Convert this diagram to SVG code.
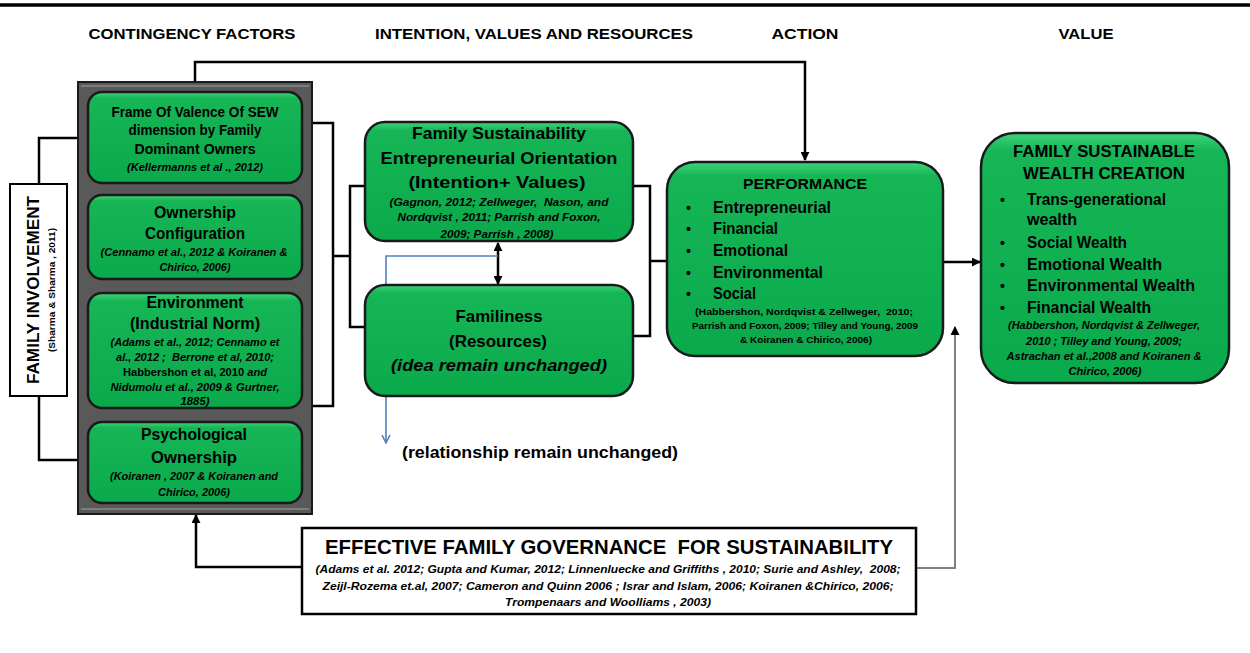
<svg xmlns="http://www.w3.org/2000/svg" width="1250" height="653" viewBox="0 0 1250 653">
<defs>
<linearGradient id="gg" x1="0" y1="0" x2="0" y2="1">
<stop offset="0" stop-color="#3fd57a"/><stop offset="0.07" stop-color="#16b657"/><stop offset="1" stop-color="#0aa94b"/>
</linearGradient>
<marker id="ah" viewBox="0 0 10 10" refX="9" refY="5" markerWidth="9" markerHeight="9" markerUnits="userSpaceOnUse" orient="auto-start-reverse"><path d="M0,0 L10,5 L0,10 z" fill="#000"/></marker>
<marker id="ahb" viewBox="0 0 10 10" refX="9" refY="5" markerWidth="10" markerHeight="10" markerUnits="userSpaceOnUse" orient="auto"><path d="M1,1 L9,5 L1,9" fill="none" stroke="#4f81bd" stroke-width="1.6"/></marker>
<style>
.t{font-family:"Liberation Sans",Arial,sans-serif;font-weight:bold;fill:#000;text-anchor:middle}
.l{text-anchor:start}
.c{font-style:italic}
.pre{white-space:pre}
.box{fill:url(#gg);stroke:#1a1a1a;stroke-width:2.5}
.ln{fill:none;stroke:#000;stroke-width:2.5}
</style>
</defs>
<rect x="0" y="0" width="1250" height="653" fill="#fff"/>
<line x1="0" y1="5" x2="1250" y2="5" stroke="#000" stroke-width="3.5"/>

<g id="headers">
<text class="t" x="192" y="39" font-size="15" textLength="207" lengthAdjust="spacingAndGlyphs">CONTINGENCY FACTORS</text>
<text class="t" x="534" y="39" font-size="15" textLength="318" lengthAdjust="spacingAndGlyphs">INTENTION, VALUES AND RESOURCES</text>
<text class="t" x="805" y="39" font-size="15" textLength="67" lengthAdjust="spacingAndGlyphs">ACTION</text>
<text class="t" x="1086" y="39" font-size="15" textLength="55" lengthAdjust="spacingAndGlyphs">VALUE</text>
</g>

<g id="connectors">
<path class="ln" d="M195,82 V62 H805 V160" marker-end="url(#ah)"/>
<path class="ln" d="M39,184 V138 H87" marker-end="url(#ah)"/>
<path class="ln" d="M39,396 V460 H87" marker-end="url(#ah)"/>
<path class="ln" stroke-width="3" d="M312,123 H333 V406 H312 M333,256 H350 M365,186 H350 V327 H365"/>
<path class="ln" stroke-width="3" d="M633,186 H650 V336 H633 M650,261 H668"/>
<path class="ln" d="M498,243 V284" marker-start="url(#ah)" marker-end="url(#ah)"/>
<path d="M498,256 H386 V443" fill="none" stroke="#4f81bd" stroke-width="1.6" marker-end="url(#ahb)"/>
<path class="ln" stroke-width="2" d="M943,262 H980" marker-end="url(#ah)"/>
<path class="ln" stroke-width="2" d="M302,567 H196 V515" marker-end="url(#ah)"/>
<path fill="none" stroke="#808080" stroke-width="2" d="M916,568 H955 V327" marker-end="url(#ah)"/>
</g>

<g id="family-involvement">
<rect x="10" y="184" width="57" height="212" fill="#fff" stroke="#000" stroke-width="2"/>
<text class="t" transform="translate(39,290) rotate(-90)" font-size="17" textLength="188" lengthAdjust="spacingAndGlyphs">FAMILY INVOLVEMENT</text>
<text class="t" transform="translate(55,290) rotate(-90)" font-size="8.5" textLength="124" lengthAdjust="spacingAndGlyphs">(Sharma &amp; Sharma , 2011)</text>
</g>

<g id="contingency-panel">
<rect x="78" y="82" width="234" height="432" fill="#595959" stroke="#1a1a1a" stroke-width="2"/>
<line x1="81" y1="86" x2="309" y2="86" stroke="#8a8a8a" stroke-width="1.5"/>
<line x1="81" y1="509" x2="309" y2="509" stroke="#8a8a8a" stroke-width="1.5"/>
</g>

<g id="frame-of-valence">
<rect class="box" x="88" y="92" width="214" height="91" rx="14"/>
<text class="t" x="195" y="117" font-size="14" textLength="167" lengthAdjust="spacingAndGlyphs">Frame Of Valence Of SEW</text>
<text class="t" x="195" y="135" font-size="14" textLength="133" lengthAdjust="spacingAndGlyphs">dimension by Family</text>
<text class="t" x="195" y="154" font-size="14" textLength="121" lengthAdjust="spacingAndGlyphs">Dominant Owners</text>
<text class="t c" x="195" y="171" font-size="10" textLength="136" lengthAdjust="spacingAndGlyphs">(Kellermanns et al ., 2012)</text>
</g>

<g id="ownership-configuration">
<rect class="box" x="88" y="195" width="214" height="84" rx="14"/>
<text class="t" x="195" y="218" font-size="16" textLength="82" lengthAdjust="spacingAndGlyphs">Ownership</text>
<text class="t" x="195" y="239" font-size="16" textLength="100" lengthAdjust="spacingAndGlyphs">Configuration</text>
<text class="t c" x="194" y="256" font-size="10.5" textLength="187" lengthAdjust="spacingAndGlyphs">(Cennamo et al., 2012 &amp; Koiranen &amp;</text>
<text class="t c" x="195" y="271" font-size="10.5" textLength="71" lengthAdjust="spacingAndGlyphs">Chirico, 2006)</text>
</g>

<g id="environment">
<rect class="box" x="88" y="293" width="214" height="115" rx="14"/>
<text class="t" x="195" y="308" font-size="16" textLength="97" lengthAdjust="spacingAndGlyphs">Environment</text>
<text class="t" x="195" y="329" font-size="16" textLength="130" lengthAdjust="spacingAndGlyphs">(Industrial Norm)</text>
<text class="t c" x="195" y="346" font-size="10.5" textLength="169" lengthAdjust="spacingAndGlyphs">(Adams et al., 2012; Cennamo et</text>
<text class="t c pre" x="195" y="361" font-size="10.5" textLength="158" lengthAdjust="spacingAndGlyphs">al., 2012 ;  Berrone et al, 2010;</text>
<text class="t" x="195" y="376" font-size="10.5" textLength="144" lengthAdjust="spacingAndGlyphs">Habbershon et al, 2010 <tspan class="c">and</tspan></text>
<text class="t c" x="195" y="391" font-size="10.5" textLength="169" lengthAdjust="spacingAndGlyphs">Nidumolu et al., 2009 &amp; Gurtner,</text>
<text class="t c" x="195" y="405" font-size="10.5" textLength="29" lengthAdjust="spacingAndGlyphs">1885)</text>
</g>

<g id="psychological-ownership">
<rect class="box" x="88" y="422" width="214" height="81" rx="14"/>
<text class="t" x="194" y="440" font-size="16" textLength="106" lengthAdjust="spacingAndGlyphs">Psychological</text>
<text class="t" x="194" y="463" font-size="16" textLength="86" lengthAdjust="spacingAndGlyphs">Ownership</text>
<text class="t c" x="194" y="480" font-size="10.5" textLength="168" lengthAdjust="spacingAndGlyphs">(Koiranen , 2007 &amp; Koiranen and</text>
<text class="t c" x="194" y="496" font-size="10.5" textLength="72" lengthAdjust="spacingAndGlyphs">Chirico, 2006)</text>
</g>

<g id="family-sustainability-eo">
<rect class="box" x="365" y="122" width="268" height="119" rx="20"/>
<text class="t" x="499" y="139" font-size="17" textLength="174" lengthAdjust="spacingAndGlyphs">Family Sustainability</text>
<text class="t" x="499" y="164" font-size="17" textLength="237" lengthAdjust="spacingAndGlyphs">Entrepreneurial Orientation</text>
<text class="t" x="497" y="188" font-size="17" textLength="177" lengthAdjust="spacingAndGlyphs">(Intention+ Values)</text>
<text class="t c pre" x="499" y="206" font-size="11" textLength="219" lengthAdjust="spacingAndGlyphs">(Gagnon, 2012; Zellweger,  Nason, and</text>
<text class="t c" x="499" y="221" font-size="11" textLength="203" lengthAdjust="spacingAndGlyphs">Nordqvist , 2011; Parrish and Foxon,</text>
<text class="t c" x="497" y="238" font-size="11" textLength="113" lengthAdjust="spacingAndGlyphs">2009; Parrish , 2008)</text>
</g>

<g id="familiness">
<rect class="box" x="365" y="285" width="268" height="111" rx="20"/>
<text class="t" x="499" y="322" font-size="17" textLength="87" lengthAdjust="spacingAndGlyphs">Familiness</text>
<text class="t" x="498" y="347" font-size="17" textLength="98" lengthAdjust="spacingAndGlyphs">(Resources)</text>
<text class="t c" x="499" y="371" font-size="17" textLength="216" lengthAdjust="spacingAndGlyphs">(idea remain unchanged)</text>
</g>

<g id="relationship-note">
<text class="t l" x="402" y="458" font-size="17" textLength="276" lengthAdjust="spacingAndGlyphs">(relationship remain unchanged)</text>
</g>

<g id="performance">
<rect class="box" x="667" y="162" width="276" height="194" rx="28"/>
<text class="t" x="805" y="189" font-size="15.5" textLength="124" lengthAdjust="spacingAndGlyphs">PERFORMANCE</text>
<g class="t l" font-size="16">
<text x="686" y="213" font-size="14">•</text><text x="713" y="213" textLength="118" lengthAdjust="spacingAndGlyphs">Entrepreneurial</text>
<text x="686" y="234" font-size="14">•</text><text x="713" y="234" textLength="65" lengthAdjust="spacingAndGlyphs">Financial</text>
<text x="686" y="256" font-size="14">•</text><text x="713" y="256" textLength="75" lengthAdjust="spacingAndGlyphs">Emotional</text>
<text x="686" y="278" font-size="14">•</text><text x="713" y="278" textLength="110" lengthAdjust="spacingAndGlyphs">Environmental</text>
<text x="686" y="299" font-size="14">•</text><text x="713" y="299" textLength="43" lengthAdjust="spacingAndGlyphs">Social</text>
</g>
<text class="t pre" x="804" y="315" font-size="9.5" textLength="218" lengthAdjust="spacingAndGlyphs">(Habbershon, Nordqvist &amp; Zellweger,  2010;</text>
<text class="t" x="805" y="329" font-size="9.5" textLength="226" lengthAdjust="spacingAndGlyphs">Parrish and Foxon, 2009; Tilley and Young, 2009</text>
<text class="t" x="806" y="343" font-size="9.5" textLength="132" lengthAdjust="spacingAndGlyphs">&amp; Koiranen &amp; Chirico, 2006)</text>
</g>

<g id="family-sustainable-wealth">
<rect class="box" x="981" y="133" width="248" height="250" rx="34"/>
<text class="t" x="1104" y="157" font-size="16" textLength="182" lengthAdjust="spacingAndGlyphs">FAMILY SUSTAINABLE</text>
<text class="t" x="1104" y="179" font-size="16" textLength="162" lengthAdjust="spacingAndGlyphs">WEALTH CREATION</text>
<g class="t l" font-size="16">
<text x="1000" y="205" font-size="14">•</text><text x="1027" y="205" textLength="139" lengthAdjust="spacingAndGlyphs">Trans-generational</text>
<text x="1027" y="225" textLength="50" lengthAdjust="spacingAndGlyphs">wealth</text>
<text x="1000" y="248" font-size="14">•</text><text x="1027" y="248" textLength="100" lengthAdjust="spacingAndGlyphs">Social Wealth</text>
<text x="1000" y="270" font-size="14">•</text><text x="1027" y="270" textLength="135" lengthAdjust="spacingAndGlyphs">Emotional Wealth</text>
<text x="1000" y="291" font-size="14">•</text><text x="1027" y="291" textLength="168" lengthAdjust="spacingAndGlyphs">Environmental Wealth</text>
<text x="1000" y="313" font-size="14">•</text><text x="1027" y="313" textLength="124" lengthAdjust="spacingAndGlyphs">Financial Wealth</text>
</g>
<text class="t c" x="1104" y="329" font-size="10.5" textLength="192" lengthAdjust="spacingAndGlyphs">(Habbershon, Nordqvist &amp; Zellweger,</text>
<text class="t c" x="1104" y="345" font-size="10.5" textLength="156" lengthAdjust="spacingAndGlyphs">2010 ; Tilley and Young, 2009;</text>
<text class="t c" x="1104" y="360" font-size="10.5" textLength="195" lengthAdjust="spacingAndGlyphs">Astrachan et al.,2008 and Koiranen &amp;</text>
<text class="t c" x="1105" y="375" font-size="10.5" textLength="73" lengthAdjust="spacingAndGlyphs">Chirico, 2006)</text>
</g>

<g id="effective-family-governance">
<rect x="302" y="528" width="614" height="86" fill="#fff" stroke="#000" stroke-width="2.5"/>
<text class="t pre" x="609" y="554" font-size="20" textLength="568" lengthAdjust="spacingAndGlyphs">EFFECTIVE FAMILY GOVERNANCE  FOR SUSTAINABILITY</text>
<text class="t c pre" x="608" y="573" font-size="10.5" textLength="585" lengthAdjust="spacingAndGlyphs">(Adams et al. 2012; Gupta and Kumar, 2012; Linnenluecke and Griffiths , 2010; Surie and Ashley,  2008;</text>
<text class="t c" x="608" y="590" font-size="10.5" textLength="571" lengthAdjust="spacingAndGlyphs">Zeijl-Rozema et.al, 2007; Cameron and Quinn 2006 ; Israr and Islam, 2006; Koiranen &amp;Chirico, 2006;</text>
<text class="t c" x="608" y="606" font-size="10.5" textLength="206" lengthAdjust="spacingAndGlyphs">Trompenaars and Woolliams , 2003)</text>
</g>
</svg>
